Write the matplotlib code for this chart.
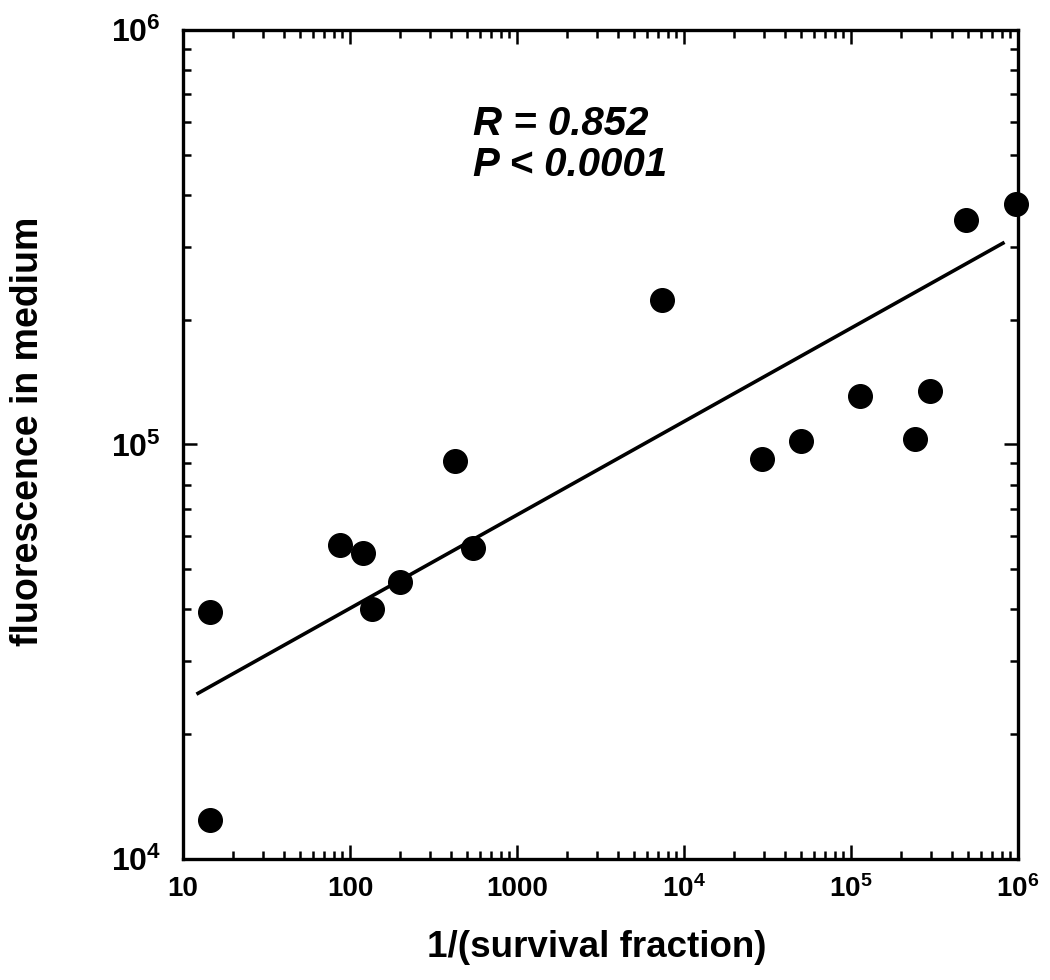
import numpy as np
import matplotlib
matplotlib.use('Agg')
import matplotlib.pyplot as plt
from matplotlib.ticker import LogLocator, FixedLocator, NullFormatter

plt.rcParams['font.family'] = ['Liberation Sans', 'DejaVu Sans']
plt.rcParams['font.weight'] = 'bold'
plt.rcParams['mathtext.fontset'] = 'custom'
plt.rcParams['mathtext.rm'] = 'Liberation Sans:bold'
plt.rcParams['mathtext.bf'] = 'Liberation Sans:bold'

# Datos
inv_survival = [14.5, 14.5, 87, 120, 135, 199, 425, 546, 7400,
                29300, 50200, 113000, 242000, 297000, 489000, 973000]
fluorescence = [39500, 12400, 57300, 54700, 40100, 46600, 91200, 56300, 223000,
                92200, 102000, 131000, 103000, 134500, 348000, 380000]

# Extremos de la linea de ajuste
fit_x = [12.3, 813000]
fit_y = [25100, 306000]

x_ticks = [10, 100, 1000, 1e4, 1e5, 1e6]
x_tick_labels = ['10', '100', '1000', r'$\mathbf{10^4}$', r'$\mathbf{10^5}$', r'$\mathbf{10^6}$']
y_ticks = [1e4, 1e5, 1e6]
y_tick_labels = [r'$\mathbf{10^4}$', r'$\mathbf{10^5}$', r'$\mathbf{10^6}$']

fig = plt.figure(figsize=(10.5, 9.8), dpi=100)
ax = fig.add_axes([0.1743, 0.1235, 0.7952, 0.8459])

ax.plot(fit_x, fit_y, color='black', lw=2.6, zorder=2)
ax.plot(inv_survival, fluorescence, 'o', color='black', ms=17, zorder=3, clip_on=False)

ax.set_xscale('log')
ax.set_yscale('log')
ax.set_xlim(10, 1e6)
ax.set_ylim(1e4, 1e6)

ax.xaxis.set_major_locator(FixedLocator(x_ticks))
ax.set_xticklabels(x_tick_labels)
ax.yaxis.set_major_locator(FixedLocator(y_ticks))
ax.set_yticklabels(y_tick_labels)
ax.xaxis.set_minor_locator(LogLocator(base=10, subs=np.arange(2, 10)))
ax.yaxis.set_minor_locator(LogLocator(base=10, subs=np.arange(2, 10)))
ax.xaxis.set_minor_formatter(NullFormatter())
ax.yaxis.set_minor_formatter(NullFormatter())

ax.tick_params(which='both', direction='in', top=True, right=True, width=1.8)
ax.tick_params(which='major', length=10)
ax.tick_params(which='minor', length=6)
ax.tick_params(axis='x', labelsize=20, pad=12)
ax.tick_params(axis='y', labelsize=23, pad=16)
for sp in ax.spines.values():
    sp.set_linewidth(2.4)

# Etiquetas de los ejes
fig.text(597 / 1050, 1 - 947 / 980, '1/(survival fraction)', fontsize=26.5,
         fontweight='bold', ha='center', va='center')
fig.text(28 / 1050, 1 - 431 / 980, 'fluorescence in medium', fontsize=27,
         fontweight='bold', rotation=90, ha='center', va='center')

ax.text(0.347, 0.91, 'R = 0.852\nP < 0.0001', transform=ax.transAxes,
        fontsize=29, fontweight='bold', fontstyle='italic', va='top', ha='left',
        linespacing=1.1)

fig.savefig('out.png', dpi=100)
